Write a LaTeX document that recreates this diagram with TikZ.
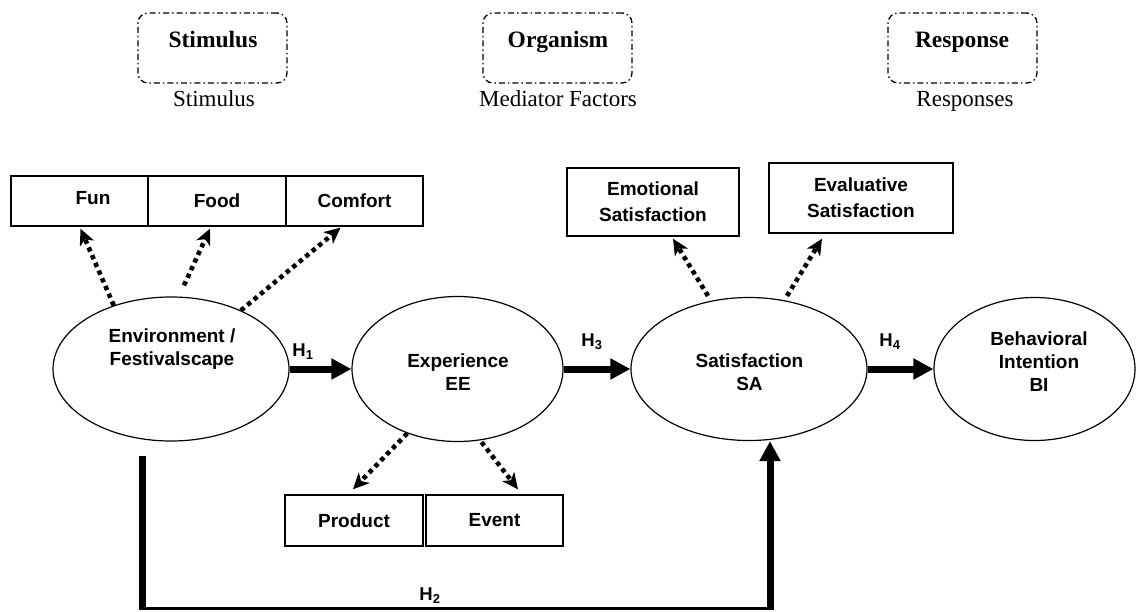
\documentclass[tikz,border=0pt]{standalone}
\usepackage{fontspec}
\setmainfont{Liberation Serif}
\setsansfont{Liberation Sans}
\usetikzlibrary{shapes.geometric,arrows.meta}
\begin{document}
\begin{tikzpicture}[x=1pt,y=-1pt,
  lbl/.style={font=\sffamily\bfseries\fontsize{19}{23}\selectfont, align=center, inner sep=0pt},
  blbl/.style={font=\sffamily\bfseries\fontsize{19}{26}\selectfont, align=center, inner sep=0pt},
  ell/.style={draw, ellipse, line width=1.2pt, inner sep=0pt},
  box/.style={draw, line width=1.4pt, inner sep=0pt, rectangle},
  ddbox/.style={draw, line width=1.3pt, dash pattern=on 6pt off 3pt on 1.5pt off 3pt, rounded corners=10pt, minimum width=149pt, minimum height=70pt, inner sep=0pt},
  headb/.style={font=\rmfamily\bfseries\fontsize{23.5}{28}\selectfont, inner sep=0pt, anchor=base},
  headr/.style={font=\rmfamily\fontsize{23}{27}\selectfont, inner sep=0pt, anchor=base},
  thickarr/.style={line width=7pt, -{Triangle[length=20pt,width=20pt]}},
  dotarr/.style={line width=4.6pt, dash pattern=on 4.4pt off 4pt, -{Stealth[length=16pt,width=15pt,inset=4.5pt]}},
  hl/.style={font=\sffamily\bfseries\fontsize{18.5}{22}\selectfont, inner sep=0pt},
  bxt/.style={font=\sffamily\bfseries\fontsize{19}{23}\selectfont}
]
\useasboundingbox (0,0) rectangle (1136,611);

% header boxes
\node[ddbox] (stimbox) at (212.5,48) {};
\node[ddbox] (orgbox) at (557.5,48) {};
\node[ddbox] (resbox) at (962.5,48) {};
\node[headb] (stimt) at (213,47) {Stimulus};
\node[headb] (orgt) at (558,47) {Organism};
\node[headb] (rest) at (962,47) {Response};
\node[headr] (stim2) at (214,106) {Stimulus};
\node[headr] (med2) at (558,106) {Mediator Factors};
\node[headr] (res2) at (965,106) {Responses};

% ellipses
\node[ell, minimum width=236pt, minimum height=144pt] (env) at (171,369) {};
\node[lbl] (envt) at (172,349.5) {Environment /\\Festivalscape};
\node[ell, minimum width=211pt, minimum height=145pt] (exp) at (457.5,369) {};
\node[lbl] (expt) at (458,372.5) {Experience\\EE};
\node[ell, minimum width=236pt, minimum height=143pt] (sat) at (749,369) {};
\node[lbl] (satt) at (749.5,372.5) {Satisfaction\\SA};
\node[ell, minimum width=201pt, minimum height=143pt] (bi) at (1034.5,369) {};
\node[lbl] (bit) at (1039,362) {Behavioral\\Intention\\BI};

% top boxes
\node[box, minimum width=137pt, minimum height=50pt] (fun) at (79.5,201) {};
\node[lbl] (funt) at (93,198) {Fun};
\node[box, bxt, minimum width=138pt, minimum height=50pt] (food) at (217,201) {Food};
\node[box, bxt, minimum width=137pt, minimum height=50pt] (comf) at (354.5,201) {Comfort};

\node[box, blbl, minimum width=172pt, minimum height=68pt] (emo) at (653,202) {Emotional\\Satisfaction};
\node[box, blbl, minimum width=184pt, minimum height=70pt] (eva) at (861,198) {Evaluative\\Satisfaction};

\node[box, bxt, minimum width=138pt, minimum height=51pt] (prod) at (354,520.5) {Product};
\node[box, bxt, minimum width=137pt, minimum height=51pt] (evt) at (494.5,520.5) {Event};

% thick arrows
\draw[thickarr] (env.east) -- (exp.west);
\draw[thickarr] (exp.east) -- (sat.west);
\draw[thickarr] (sat.east) -- (bi.west);
\node[hl] (h1) at (303,352) {H\textsubscript{1}};
\node[hl] (h3) at (592,342) {H\textsubscript{3}};
\node[hl] (h4) at (890,342) {H\textsubscript{4}};

% dotted arrows
\draw[dotarr] (env.132) -- ([xshift=1pt,yshift=-2pt]fun.south);
\draw[dotarr] ([xshift=13pt,yshift=11pt]env.north) -- ([xshift=-7pt,yshift=-2pt]food.south);
\draw[dotarr] (env.40) -- ([xshift=-14pt,yshift=-1pt]comf.south);
\draw[dotarr] ([xshift=-41pt,yshift=1pt]sat.north) -- ([xshift=20pt,yshift=-2pt]emo.south);
\draw[dotarr] ([xshift=38pt,yshift=1pt]sat.north) -- ([xshift=-39pt,yshift=-5pt]eva.south);
\draw[dotarr] (exp.-128) -- ([xshift=-1pt,yshift=5pt]prod.north);
\draw[dotarr] ([xshift=24pt]exp.south) -- ([xshift=23.5pt,yshift=5pt]evt.north);

% H2 path
\coordinate (h2s) at (142,456);
\coordinate (h2bl) at (142,610);
\coordinate (h2br) at (770,610);
\draw[line width=7pt] (h2s) -- (h2bl);
\draw[line width=2.5pt] (142,608.5) -- (770,608.5);
\draw[thickarr] (h2br) -- (h2br |- sat.south);
\node[hl] (h2) at (430,596) {H\textsubscript{2}};
\end{tikzpicture}
\end{document}
